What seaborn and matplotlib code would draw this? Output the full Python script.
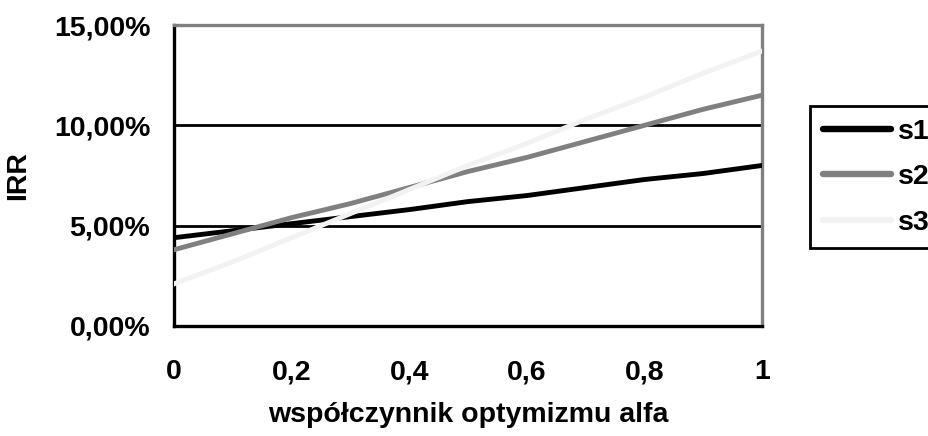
import matplotlib
matplotlib.use("Agg")
import matplotlib.pyplot as plt
import seaborn as sns
import pandas as pd
from matplotlib.ticker import FixedLocator, FuncFormatter
from matplotlib.lines import Line2D

alpha = [0.0, 0.1, 0.2, 0.3, 0.4, 0.5, 0.6, 0.7, 0.8, 0.9, 1.0]
s1 = [4.4, 4.75, 5.1, 5.45, 5.8, 6.2, 6.5, 6.9, 7.3, 7.6, 8.0]
s2 = [3.8, 4.6, 5.4, 6.1, 6.9, 7.7, 8.4, 9.2, 10.0, 10.8, 11.5]
s3 = [2.1, 3.2, 4.4, 5.6, 6.8, 8.0, 9.1, 10.3, 11.4, 12.6, 13.7]
series_names = ["s1", "s2", "s3"]
colors = {"s1": "#000000", "s2": "#808080", "s3": "#f2f2f2"}

x_ticks = [0, 0.2, 0.4, 0.6, 0.8, 1]
y_ticks = [0, 5, 10, 15]

rows = []
for name, vals in zip(series_names, [s1, s2, s3]):
    for a, v in zip(alpha, vals):
        rows.append({"alfa": a, "IRR": v, "seria": name})
df = pd.DataFrame(rows)

sns.set_style("white")
plt.rcParams['font.family'] = ['Liberation Sans', 'DejaVu Sans']
plt.rcParams['font.weight'] = 'bold'
plt.rcParams['text.color'] = 'black'
plt.rcParams['axes.labelcolor'] = 'black'
plt.rcParams['xtick.color'] = 'black'
plt.rcParams['ytick.color'] = 'black'

FS = 20.5

fig = plt.figure(figsize=(9.29, 4.36), dpi=100)
ax = fig.add_axes([174/929, 1-326/436, (762-174)/929, (326-25)/436])

for y in [5, 10]:
    ax.axhline(y, color="black", lw=2, zorder=1)

sns.lineplot(data=df, x="alfa", y="IRR", hue="seria", palette=colors,
             hue_order=series_names, lw=3.5, ax=ax, legend=False, zorder=3)

ax.set_xlim(0, 1)
ax.set_ylim(0, 15)
ax.xaxis.set_major_locator(FixedLocator(x_ticks))
ax.yaxis.set_major_locator(FixedLocator(y_ticks))
ax.xaxis.set_major_formatter(FuncFormatter(lambda v, p: ("%g" % v).replace(".", ",")))
ax.yaxis.set_major_formatter(FuncFormatter(lambda v, p: ("%.2f%%" % v).replace(".", ",")))
ax.tick_params(axis='both', direction='out', length=7, width=2, labelsize=FS,
               colors='black', labelcolor='black')
ax.tick_params(axis='x', pad=17)
ax.tick_params(axis='y', pad=10)
for lab in ax.get_xticklabels() + ax.get_yticklabels():
    lab.set_fontweight('bold')

for side in ['left', 'bottom']:
    ax.spines[side].set_color('black')
    ax.spines[side].set_linewidth(2.4)
for side in ['top', 'right']:
    ax.spines[side].set_visible(True)
    ax.spines[side].set_color('#808080')
    ax.spines[side].set_linewidth(2.4)

ax.set_xlabel("współczynnik optymizmu alfa", fontsize=FS, fontweight='bold',
              labelpad=12, color='black')
ax.set_ylabel("IRR", fontsize=FS, fontweight='bold', color='black')
ax.yaxis.set_label_coords(-(174-31)/588, 0.5)

handles = [Line2D([], [], color=colors[n], lw=4.6, solid_capstyle='round') for n in series_names]
leg = fig.legend(handles, series_names, loc='upper left',
                 bbox_to_anchor=(810/929, 1-106/436), frameon=True, framealpha=1,
                 fontsize=FS, handlelength=2.4, handletextpad=0.25,
                 labelspacing=0.68, borderpad=0.45, borderaxespad=0, fancybox=False,
                 labelcolor='black')
leg.get_frame().set_edgecolor('black')
leg.get_frame().set_linewidth(2)
for t in leg.get_texts():
    t.set_fontweight('bold')

fig.savefig("out.png", dpi=100)
